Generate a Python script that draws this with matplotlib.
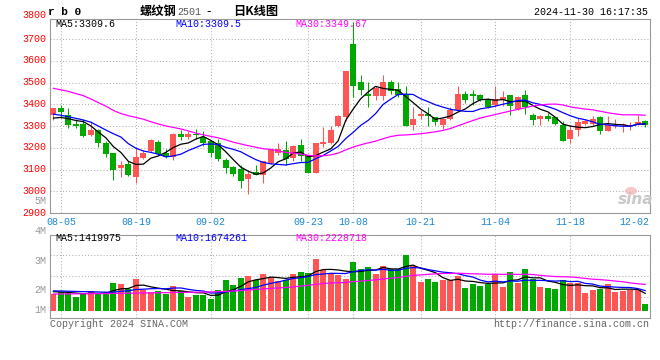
import matplotlib
matplotlib.use("Agg")
import matplotlib.pyplot as plt
import matplotlib.transforms as mtransforms
from matplotlib.patches import Ellipse
import numpy as np
import pandas as pd

plt.rcParams["font.family"] = ["Liberation Mono", "DejaVu Sans Mono"]

# trading days shown (the last one is the Monday session opened by Friday night trading)
dates = [
    "08-02", "08-05", "08-06", "08-07", "08-08", "08-09", "08-12", "08-13", "08-14", "08-15",
    "08-16", "08-19", "08-20", "08-21", "08-22", "08-23", "08-26", "08-27", "08-28", "08-29",
    "08-30", "09-02", "09-03", "09-04", "09-05", "09-06", "09-09", "09-10", "09-11", "09-12",
    "09-13", "09-18", "09-19", "09-20", "09-23", "09-24", "09-25", "09-26", "09-27", "09-30",
    "10-08", "10-09", "10-10", "10-11", "10-14", "10-15", "10-16", "10-17", "10-18", "10-21",
    "10-22", "10-23", "10-24", "10-25", "10-28", "10-29", "10-30", "10-31", "11-01", "11-04",
    "11-05", "11-06", "11-07", "11-08", "11-11", "11-12", "11-13", "11-14", "11-15", "11-18",
    "11-19", "11-20", "11-21", "11-22", "11-25", "11-26", "11-27", "11-28", "11-29", "12-02",
]
opens = [
    3353, 3382, 3349, 3308, 3309, 3257, 3282, 3224, 3175, 3108,
    3126, 3068, 3152, 3184, 3225, 3178, 3160, 3262, 3248, 3263,
    3251, 3230, 3224, 3144, 3111, 3101, 3056, 3089, 3077, 3132,
    3178, 3190, 3153, 3211, 3163, 3086, 3218, 3221, 3300, 3343,
    3679, 3502, 3450, 3440, 3440, 3502, 3471, 3450, 3306, 3346,
    3358, 3343, 3303, 3334, 3376, 3450, 3450, 3445, 3427, 3399,
    3419, 3445, 3379, 3445, 3349, 3334, 3346, 3343, 3303, 3242,
    3282, 3312, 3312, 3341, 3277, 3300, 3303, 3303, 3308, 3324,
]
highs = [
    3385, 3399, 3382, 3331, 3334, 3323, 3288, 3231, 3178, 3140,
    3141, 3202, 3190, 3242, 3236, 3196, 3269, 3282, 3277, 3285,
    3276, 3236, 3239, 3155, 3117, 3123, 3098, 3120, 3141, 3193,
    3221, 3233, 3214, 3239, 3169, 3221, 3297, 3300, 3349, 3555,
    3779, 3537, 3502, 3483, 3537, 3514, 3502, 3483, 3389, 3376,
    3389, 3343, 3337, 3389, 3483, 3460, 3468, 3450, 3430, 3483,
    3460, 3445, 3437, 3468, 3361, 3352, 3361, 3343, 3323, 3300,
    3337, 3331, 3346, 3346, 3346, 3331, 3315, 3318, 3352, 3327,
]
lows = [
    3330, 3337, 3292, 3292, 3250, 3254, 3204, 3160, 3053, 3068,
    3071, 3037, 3147, 3181, 3166, 3155, 3144, 3236, 3242, 3239,
    3208, 3160, 3141, 3083, 3071, 3013, 2988, 3074, 3037, 3126,
    3166, 3123, 3140, 3140, 3083, 3083, 3205, 3218, 3297, 3323,
    3434, 3445, 3389, 3422, 3422, 3450, 3434, 3300, 3282, 3331,
    3300, 3303, 3285, 3327, 3373, 3407, 3398, 3415, 3384, 3389,
    3395, 3352, 3376, 3356, 3303, 3303, 3323, 3303, 3231, 3221,
    3254, 3303, 3303, 3266, 3277, 3292, 3273, 3282, 3303, 3297,
]
closes = [
    3382, 3364, 3303, 3300, 3254, 3282, 3224, 3170, 3098, 3120,
    3076, 3156, 3175, 3236, 3170, 3160, 3266, 3251, 3266, 3259,
    3221, 3175, 3147, 3108, 3079, 3048, 3080, 3076, 3138, 3193,
    3193, 3147, 3208, 3163, 3083, 3221, 3227, 3282, 3346, 3552,
    3483, 3465, 3440, 3476, 3505, 3460, 3445, 3300, 3334, 3358,
    3346, 3318, 3334, 3376, 3450, 3419, 3440, 3422, 3389, 3427,
    3434, 3392, 3434, 3389, 3327, 3346, 3334, 3308, 3231, 3282,
    3321, 3323, 3335, 3277, 3303, 3303, 3312, 3306, 3321, 3306,
]
volumes = [  # millions of lots
    1.52, 1.70, 1.60, 1.27, 1.60, 1.80, 1.55, 1.67, 2.50, 2.40,
    1.98, 2.90, 1.85, 1.72, 1.78, 1.52, 2.25, 1.75, 1.27, 1.40,
    1.45, 1.09, 1.88, 2.79, 2.33, 2.97, 3.15, 2.79, 3.33, 3.03,
    2.73, 2.79, 3.33, 3.52, 3.42, 4.72, 3.70, 3.42, 3.24, 2.90,
    4.44, 3.82, 3.97, 3.33, 4.10, 3.80, 3.75, 5.06, 4.03, 2.64,
    2.90, 2.64, 2.79, 2.79, 3.18, 2.09, 2.45, 2.25, 2.45, 3.33,
    2.18, 3.52, 2.55, 3.80, 2.88, 2.18, 2.06, 1.97, 2.79, 2.48,
    2.48, 1.64, 1.88, 1.97, 2.42, 1.73, 1.80, 1.88, 1.85, 0.61,
]

# moving averages at the left edge depend on days before the window
ma5_head = [3337, 3340, 3334, 3326]
ma10_head = [3355, 3350, 3343, 3336, 3328, 3318, 3300, 3282, 3265]
ma30_head = [
    3474, 3467, 3460, 3450, 3440, 3425, 3408, 3392, 3372, 3358,
    3348, 3340, 3332, 3320, 3310, 3301, 3294, 3287, 3278, 3268,
    3260, 3253, 3246, 3237, 3226, 3218, 3210, 3203, 3196,
]
vma5_head = [1.73, 1.70, 1.66, 1.60]
vma10_head = [1.80, 1.79, 1.77, 1.75, 1.73, 1.72, 1.70, 1.68, 1.68]
vma30_head = [
    1.52, 1.52, 1.53, 1.53, 1.54, 1.55, 1.55, 1.56, 1.57, 1.58,
    1.59, 1.60, 1.61, 1.62, 1.63, 1.64, 1.65, 1.66, 1.67, 1.68,
    1.69, 1.71, 1.73, 1.76, 1.79, 1.83, 1.88, 1.93, 1.98,
]

tick_dates = ["08-05", "08-19", "09-02", "09-23", "10-08", "10-21", "11-04", "11-18", "12-02"]
price_ticks = [2900, 3000, 3100, 3200, 3300, 3400, 3500, 3600, 3700]

RED = "#ff5555"
GREEN = "#00a800"
GRID = "#b0b0b0"
FRAME = "#999999"
DATE_BLUE = "#1e86d6"
DOTS = (0, (1, 2))

W, H = 660, 360


def moving_avg(values, n, head):
    ma = pd.Series(values, dtype=float).rolling(n).mean().to_numpy()
    ma[:n - 1] = head
    return ma


fig = plt.figure(figsize=(W / 100, H / 100), dpi=100)


def px_axes(x0, y0, x1, y1):
    return fig.add_axes([x0 / W, 1 - y1 / H, (x1 - x0) / W, (y1 - y0) / H])


def ftext(x, y, s, **kw):
    kw.setdefault("fontsize", 7.2)
    kw.setdefault("va", "center")
    return fig.text(x / W, 1 - y / H, s, **kw)


ax = px_axes(50.5, 19.3, 649.7, 213)
axv = px_axes(50.5, 234.7, 649.7, 317.5)

x = np.arange(len(dates))
o, h, l, c = (np.array(a, dtype=float) for a in (opens, highs, lows, closes))
colors = np.where(c >= o, RED, GREEN)
tick_idx = [dates.index(d) for d in tick_dates]

# candles
ax.vlines(x, l, h, colors=colors, linewidth=0.75, zorder=2)
ax.bar(x, np.maximum(np.abs(c - o), 4), bottom=np.minimum(o, c), width=0.8,
       color=colors, linewidth=0, zorder=3)
for n, head, col in ((5, ma5_head, "black"), (10, ma10_head, "#0000ff"), (30, ma30_head, "#ff00ff")):
    ax.plot(x, moving_avg(closes, n, head), color=col, linewidth=0.9, zorder=4)

# volume
axv.bar(x, volumes, width=0.8, color=colors, linewidth=0, zorder=2)
for n, head, col in ((5, vma5_head, "black"), (10, vma10_head, "#0000ff"), (30, vma30_head, "#ff00ff")):
    axv.plot(x, moving_avg(volumes, n, head), color=col, linewidth=0.9, zorder=4)

for a in (ax, axv):
    a.set_xlim(-0.4, 79.6)
    a.set_axisbelow(True)
    for s in a.spines.values():
        s.set_color(FRAME)
        s.set_linewidth(0.8)
    for t in tick_idx[:-1]:
        a.axvline(t, color=GRID, linestyle=DOTS, linewidth=0.75, zorder=0)
    a.yaxis.grid(True, color=GRID, linestyle=DOTS, linewidth=0.75)
    a.tick_params(length=0)

ax.set_ylim(2900, 3792)
ax.set_yticks(price_ticks, [str(p) for p in price_ticks])
ax.tick_params(axis="y", colors="#ff0000", labelsize=7.2, pad=3.2)
lift = mtransforms.ScaledTranslation(0, 1.5 / 100, fig.dpi_scale_trans)
for lbl in ax.get_yticklabels():
    lbl.set_transform(lbl.get_transform() + lift)
ax.set_xticks(tick_idx, tick_dates)
ax.tick_params(axis="x", colors=DATE_BLUE, labelsize=7.2, pad=3.0)
last = ax.get_xticklabels()[-1]
last.set_horizontalalignment("right")
last.set_transform(last.get_transform() + mtransforms.ScaledTranslation(4 / 100, 0, fig.dpi_scale_trans))

vlo, vhi = -0.62, 6.91
axv.set_ylim(vlo, vhi)
axv.set_yticks(np.linspace(vlo, vhi, 5)[1:-1])
axv.set_yticklabels([])
axv.set_xticks([])

# labels outside the axes
ftext(46, 15.5, "3800", color="#ff0000", ha="right")
ftext(46.5, 200.7, "5M", color=FRAME, ha="right")
for lab, yy in (("4M", 230.7), ("3M", 261), ("2M", 290), ("1M", 310)):
    ftext(46.5, yy, lab, color=FRAME, ha="right")

ftext(48, 12, "r b 0", fontsize=8, fontweight="bold")
ftext(140, 11.5, "螺纹钢", fontsize=8.8, family=["Noto Sans CJK SC"], fontweight="bold")
ftext(177, 12, "2501", color="#555555")
ftext(206, 11.5, "-", fontsize=8.8, family=["DejaVu Sans"])
ftext(233, 11.5, "日K线图", fontsize=8.8, family=["Noto Sans CJK SC"], fontweight="bold")
ftext(648, 11.7, "2024-11-30 16:17:35", ha="right")

ftext(55, 24, "MA5:3309.6", color="black")
ftext(175, 24, "MA10:3309.5", color="#0000ff")
ftext(295, 24, "MA30:3349.67", color="#ff00ff")
ftext(55, 238.3, "MA5:1419975", color="black")
ftext(175, 238.3, "MA10:1674261", color="#0000ff")
ftext(295, 238.3, "MA30:2228718", color="#ff00ff")

ftext(50, 324, "Copyright 2024 SINA.COM", color="#666666")
ftext(649, 324, "http://finance.sina.com.cn", color="#666666", ha="right")

# sina watermark
fig.patches.append(Ellipse((631 / W, 1 - 191 / H), 12 / W, 8 / H, transform=fig.transFigure,
                           facecolor="#f6b8b8", edgecolor="none", alpha=0.8))
ftext(636, 200, "sina", fontsize=11, color="#c8c8c8", ha="center", style="italic",
      fontweight="bold", family=["DejaVu Sans"])

fig.savefig("out.png", dpi=100)
